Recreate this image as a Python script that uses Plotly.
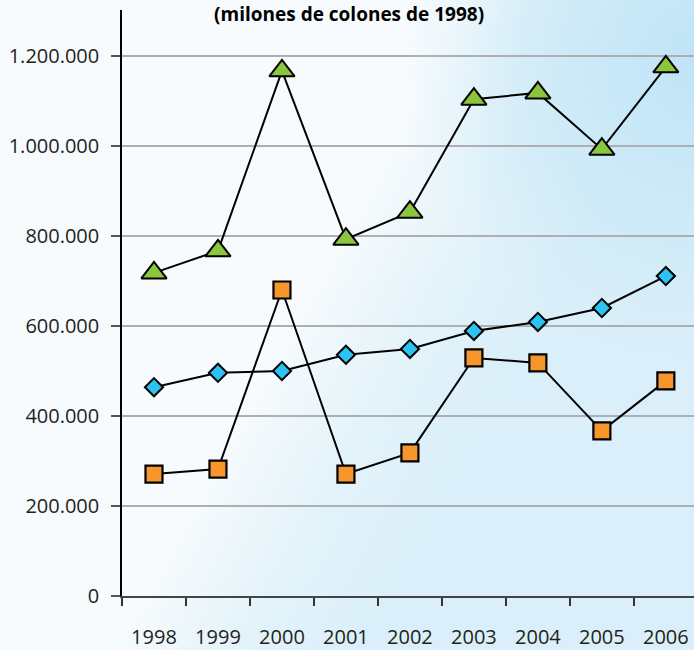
import base64
import plotly.graph_objects as go

years = ["1998", "1999", "2000", "2001", "2002", "2003", "2004", "2005", "2006"]
# miles de colones
serie_verde = [718000, 767000, 1167000, 793000, 853000, 1104000, 1118000, 993000, 1176000]
serie_azul = [464000, 496000, 500000, 536000, 549000, 589000, 609000, 640000, 711000]
serie_naranja = [271000, 282000, 680000, 271000, 318000, 529000, 518000, 367000, 478000]
y_ticks = [0, 200000, 400000, 600000, 800000, 1000000, 1200000]
y_labels = ["0", "200.000", "400.000", "600.000", "800.000", "1.000.000", "1.200.000"]

W, H = 694, 650
ML, MR, MT, MB = 122, 0, 10, 54

# fondo degradado
svg = f"""<svg xmlns='http://www.w3.org/2000/svg' width='{W}' height='{H}' viewBox='0 0 {W} {H}' preserveAspectRatio='none'>
<defs>
<linearGradient id='a' gradientUnits='userSpaceOnUse' x1='330' y1='250' x2='520' y2='355'>
<stop offset='0' stop-color='#f7fbfd'/><stop offset='0.5' stop-color='#e4f3fa'/><stop offset='1' stop-color='#daeff9'/>
</linearGradient>
<radialGradient id='b' gradientUnits='userSpaceOnUse' cx='700' cy='60' r='300'>
<stop offset='0' stop-color='#bfe4f6' stop-opacity='1'/><stop offset='0.6' stop-color='#c8e8f7' stop-opacity='0.6'/><stop offset='1' stop-color='#d0ecf8' stop-opacity='0'/>
</radialGradient>
</defs>
<rect width='{W}' height='{H}' fill='url(#a)'/>
<rect width='{W}' height='{H}' fill='url(#b)'/>
</svg>"""
bg_src = "data:image/svg+xml;base64," + base64.b64encode(svg.encode()).decode()

pw = W - ML - MR
ph = H - MT - MB

fig = go.Figure()

fig.add_trace(go.Scatter(
    x=years, y=serie_azul, mode="lines+markers",
    line=dict(color="black", width=2),
    marker=dict(symbol="diamond", size=14, color="#2cc3f2", line=dict(color="black", width=2)),
))
fig.add_trace(go.Scatter(
    x=years, y=serie_naranja, mode="lines+markers",
    line=dict(color="black", width=2),
    marker=dict(symbol="square", size=17, color="#f7962b", line=dict(color="black", width=2.2)),
))
fig.add_trace(go.Scatter(
    x=years, y=serie_verde, mode="lines+markers",
    line=dict(color="black", width=2),
    marker=dict(symbol="triangle-up", size=22, color="#8cc63f", line=dict(color="black", width=2)),
))

fig.update_layout(
    width=W, height=H,
    margin=dict(l=ML, r=MR, t=MT, b=MB),
    paper_bgcolor="white",
    plot_bgcolor="rgba(0,0,0,0)",
    showlegend=False,
    font=dict(family="Open Sans", color="#231f20"),
    title=dict(
        text="<b>(milones de colones de 1998)</b>",
        xref="container", x=0.503, xanchor="center",
        yref="container", y=1 - 14 / H, yanchor="middle",
        font=dict(size=19, color="black", family="Open Sans"),
    ),
    images=[dict(
        source=bg_src, xref="paper", yref="paper",
        x=-ML / pw, y=1 + MT / ph, sizex=W / pw, sizey=H / ph,
        xanchor="left", yanchor="top", sizing="stretch", layer="below",
    )],
)

fig.update_xaxes(
    type="category", range=[-0.5, 8.44], automargin=False,
    tickson="boundaries", ticks="outside", ticklen=8, tickwidth=1.5, tickcolor="#333",
    showline=True, linecolor="#444", linewidth=2,
    showgrid=False, zeroline=False,
    tickfont=dict(size=20, color="#231f20"),
    ticklabelstandoff=22,
)
fig.update_yaxes(
    range=[0, ph / 0.45 * 1000], automargin=False,
    tickvals=y_ticks, ticktext=y_labels,
    ticks="outside", ticklen=9, tickwidth=1.5, tickcolor="#555",
    showline=True, linecolor="black", linewidth=1.5,
    showgrid=True, gridcolor="#adafb2", gridwidth=2,
    zeroline=False,
    tickfont=dict(size=20, color="#231f20"),
    ticklabelstandoff=8,
)

fig.write_html("out.html", config={"displayModeBar": False},
               post_script="document.body.style.margin='0';")
